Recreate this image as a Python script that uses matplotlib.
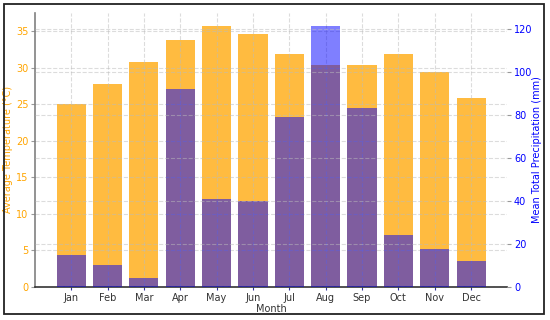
import matplotlib.pyplot as plt
from matplotlib.patches import Rectangle

months = ["Jan", "Feb", "Mar", "Apr", "May", "Jun",
          "Jul", "Aug", "Sep", "Oct", "Nov", "Dec"]
temperature = [25.0, 27.8, 30.8, 33.8, 35.7, 34.6, 31.9, 30.4, 30.4, 31.8, 29.4, 25.8]
precipitation = [14.8, 10.1, 4.3, 91.9, 41.1, 39.9, 78.9, 121.4, 83.1, 24.0, 17.9, 12.0]

fig = plt.figure(figsize=(5.5, 3.2), dpi=100)
ax1 = fig.add_axes([0.064, 0.103, 0.858, 0.857])
ax2 = ax1.twinx()

x = range(len(months))
ax1.bar(x, temperature, width=0.8, color="#FFA500", alpha=0.75)
ax2.bar(x, precipitation, width=0.8, color="#0000FF", alpha=0.5)

fs = 7
ax1.set_xticks(list(x))
ax1.set_xticklabels(months, fontsize=fs, color="#333333")
ax1.set_xlabel("Month", fontsize=fs, color="#333333", labelpad=1)
ax1.set_ylabel("Average Temperature (°C)", fontsize=fs, color="#FFA500")
ax2.set_ylabel("Mean Total Precipitation (mm)", fontsize=fs, color="#0000FF")
ax1.yaxis.set_label_coords(-0.046, 0.5)
ax2.yaxis.set_label_coords(1.052, 0.5)

ax1.tick_params(axis="y", labelsize=fs, labelcolor="#FFA500", color="#999999", length=3, pad=2)
ax1.tick_params(axis="x", color="#333399", length=2, pad=2)
ax2.tick_params(axis="y", labelsize=fs, labelcolor="#0000FF", color="#999999", length=3, pad=2)

for ax in (ax1, ax2):
    ax.grid(True, linestyle="--", color="#bbbbbb", alpha=0.5, linewidth=0.8)
    ax.spines["top"].set_visible(False)
    ax.spines["right"].set_visible(False)
ax2.spines["left"].set_visible(False)
ax2.spines["bottom"].set_visible(False)
ax1.spines["left"].set_color("#808080")
ax1.spines["left"].set_linewidth(1.2)
ax1.spines["bottom"].set_color("#333333")
ax1.spines["bottom"].set_linewidth(1.2)

fig.patches.append(Rectangle((4 / 550, 6 / 320), 540 / 550, 310 / 320,
                             transform=fig.transFigure, fill=False,
                             edgecolor="#222222", linewidth=1.3))

fig.savefig("out.png", dpi=100)
